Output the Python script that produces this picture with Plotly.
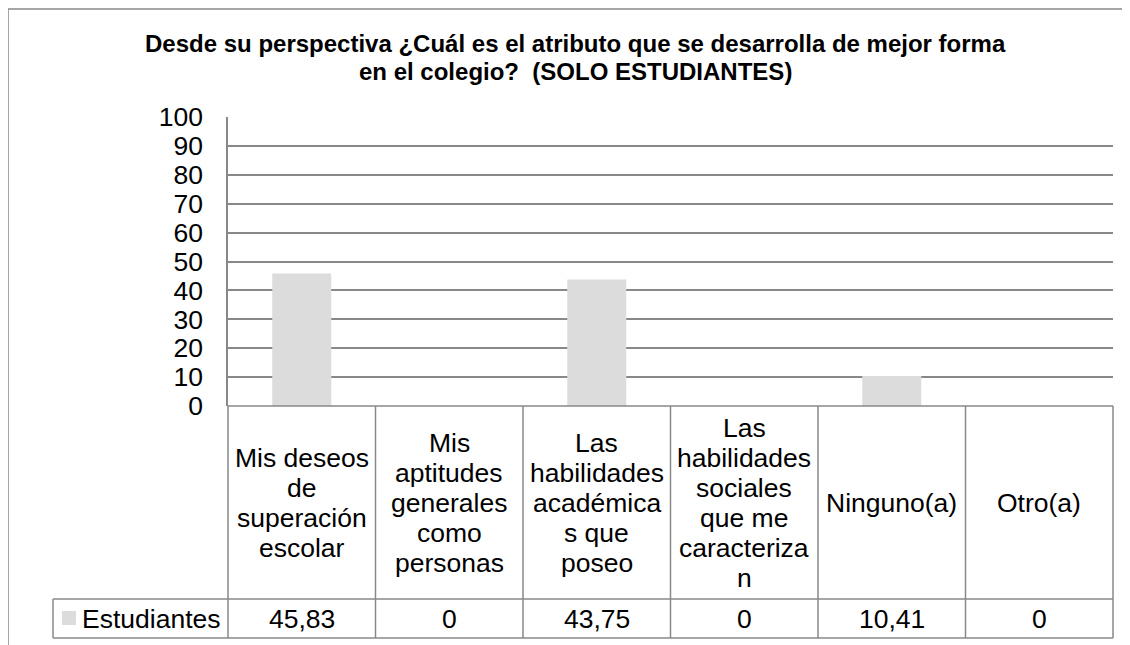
import plotly.graph_objects as go

# ---------------- data ----------------
title_line1 = "Desde su perspectiva ¿Cuál es el atributo que se desarrolla de mejor forma"
title_line2 = "en el colegio?  (SOLO ESTUDIANTES)"
categories = [
    "Mis deseos\nde\nsuperación\nescolar",
    "Mis\naptitudes\ngenerales\ncomo\npersonas",
    "Las\nhabilidades\nacadémica\ns que\nposeo",
    "Las\nhabilidades\nsociales\nque me\ncaracteriza\nn",
    "Ninguno(a)",
    "Otro(a)",
]
series_name = "Estudiantes"
values = [45.83, 0, 43.75, 0, 10.41, 0]
y_ticks = list(range(0, 101, 10))

# ---------------- layout constants (page pixels) ----------------
OFF = 8                                   # default page margin around the plot div
PAGE_W, PAGE_H = 1130, 645
W, H = PAGE_W - OFF, PAGE_H - OFF
L, R, T, B = 228, 1113, 117, 406          # plot area (page coords)
ROW_TOP, ROW_BOT = 599, 638               # value row of data table
KEY_LEFT = 53                              # left of series-name cell
LINE_H = 30
FONT = "Arial, Liberation Sans, sans-serif"
FS = 26.5
GRID = "#888888"
BAR = "#DCDCDC"

n = len(categories)


def py(p):  # page pixel y -> paper y
    return (B - p) / (B - T)


def px(p):  # page pixel x -> paper x
    return (p - L) / (R - L)


fig = go.Figure()
fig.add_bar(x=list(range(n)), y=values, width=0.4, name=series_name,
            marker=dict(color=BAR, line=dict(width=0)))

shapes = []
line = dict(color=GRID, width=1.5)
# outer chart border (cropped)
shapes.append(dict(type="line", xref="paper", yref="paper", x0=px(8), x1=px(PAGE_W + 5), y0=py(9), y1=py(9), line=line))
shapes.append(dict(type="line", xref="paper", yref="paper", x0=px(8), x1=px(8), y0=py(9), y1=py(PAGE_H + 5), line=line))
# data table
shapes.append(dict(type="line", xref="paper", yref="paper", x0=0, x1=1, y0=0, y1=0, line=line))
shapes.append(dict(type="line", xref="paper", yref="paper", x0=px(KEY_LEFT), x1=1, y0=py(ROW_TOP), y1=py(ROW_TOP), line=line))
shapes.append(dict(type="line", xref="paper", yref="paper", x0=px(KEY_LEFT), x1=1, y0=py(ROW_BOT), y1=py(ROW_BOT), line=line))
shapes.append(dict(type="line", xref="paper", yref="paper", x0=px(KEY_LEFT), x1=px(KEY_LEFT), y0=py(ROW_TOP), y1=py(ROW_BOT), line=line))
for k in range(n + 1):
    shapes.append(dict(type="line", xref="paper", yref="paper", x0=k / n, x1=k / n,
                       y0=0, y1=py(ROW_BOT), line=line))
# legend key
shapes.append(dict(type="rect", xref="paper", yref="paper", x0=px(62), x1=px(76),
                   y0=py(611), y1=py(625), fillcolor=BAR, line=dict(width=0)))

annotations = []
tfont = dict(family=FONT, size=24, color="black")
annotations.append(dict(text="<b>%s</b>" % title_line1, xref="paper", yref="paper",
                        x=px(575.5), y=py(44), xanchor="center", yanchor="middle",
                        showarrow=False, font=tfont))
annotations.append(dict(text="<b>%s</b>" % title_line2, xref="paper", yref="paper",
                        x=px(575.5), y=py(71), xanchor="center", yanchor="middle",
                        showarrow=False, font=tfont))

cfont = dict(family=FONT, size=FS, color="black")
center = (B + ROW_TOP) / 2
for i, cat in enumerate(categories):
    lines = cat.split("\n")
    m = len(lines)
    for j, t in enumerate(lines):
        p = center + (j - (m - 1) / 2) * LINE_H
        annotations.append(dict(text=t, xref="x", yref="paper", x=i, y=py(p),
                                xanchor="center", yanchor="middle", showarrow=False, font=cfont))
    annotations.append(dict(text=f"{values[i]:g}".replace(".", ","), xref="x", yref="paper",
                            x=i, y=py((ROW_TOP + ROW_BOT) / 2), xanchor="center", yanchor="middle",
                            showarrow=False, font=cfont))
annotations.append(dict(text=series_name, xref="paper", yref="paper", x=px(80),
                        y=py((ROW_TOP + ROW_BOT) / 2), xanchor="left", yanchor="middle",
                        showarrow=False, font=cfont))

fig.update_layout(
    width=W, height=H,
    margin=dict(l=L - OFF, r=PAGE_W - R, t=T - OFF, b=PAGE_H - B, pad=0),
    paper_bgcolor="white", plot_bgcolor="white",
    showlegend=False,
    shapes=shapes, annotations=annotations,
    xaxis=dict(range=[-0.5, n - 0.5], visible=False, fixedrange=True),
    yaxis=dict(range=[0, 100], tickvals=y_ticks, showgrid=True, gridcolor=GRID, gridwidth=1.5,
               zeroline=False, showline=True, linecolor=GRID, linewidth=1.5, ticks="",
               ticklabelstandoff=18, tickfont=dict(family=FONT, size=FS, color="black"),
               fixedrange=True),
    bargap=0.6,
)

fig.write_html("out.html")
